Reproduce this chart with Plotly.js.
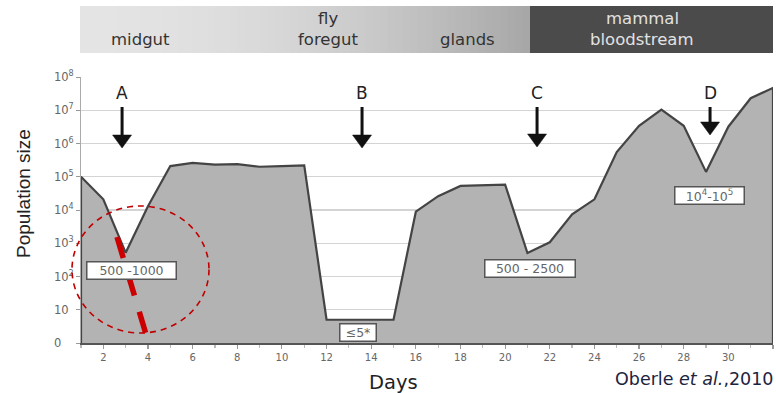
<!DOCTYPE html>
<html>
<head>
<meta charset="utf-8">
<script src="https://cdn.plot.ly/plotly-3.0.1.min.js"></script>
<style>html,body{margin:0;padding:0;background:#fff;}#chart{width:776px;height:393px;}</style>
</head>
<body>
<div id="chart"></div>
<script>
// ---- data ----
var days = [1,2,3,4,5,6,7,8,9,10,11,12,13,14,15,16,17,18,19,20,21,22,23,24,25,26,27,28,29,30,31,32];
var population = [1e5,2.1e4,520,1.3e4,2.1e5,2.6e5,2.3e5,2.4e5,2.0e5,2.1e5,2.2e5,5,5,5,5,8900,2.6e4,5.3e4,5.6e4,5.8e4,510,1070,7400,2.1e4,5.5e5,3.4e6,1.05e7,3.4e6,1.4e5,3.2e6,2.3e7,4.7e7];
var yTickVals = [1,10,100,1e3,1e4,1e5,1e6,1e7,1e8];
// figure spaces keep the labels left-aligned like the reference
var yTickText = ['0\u2007<sup>\u2007</sup>','10<sup>\u2007</sup>','10<sup>2</sup>','10<sup>3</sup>','10<sup>4</sup>','10<sup>5</sup>','10<sup>6</sup>','10<sup>7</sup>','10<sup>8</sup>'];
var xTitle = 'Days';
var yTitle = 'Population size';
var arrowLetters = ['A','B','C','D'];
var arrowDays = [2.84,13.59,21.43,29.18];
var rangeLabels = ['500 -1000','\u22645*','500 - 2500','10<sup>4</sup>-10<sup>5</sup>'];
var rangeLabelDays = [3.28,13.41,21.12,29.14];
var rangeLabelLevels = [150,2.1,175,27000];
var stageTop = ['', 'fly', '', 'mammal'];
var stageBottom = ['midgut', 'foregut', 'glands', 'bloodstream'];

// ---- geometry helpers (pixel -> paper) ----
var L = 81, T = 77, W = 692, H = 266;
function px(x){ return (x - L) / W; }
function py(y){ return (T + H - y) / H; }
function dayToPx(d){ return L + (d - 1) * W / 31; }

var shapes = [];
// header gradient band
var N = 60, x0 = 80, x1 = 530;
for (var i = 0; i < N; i++) {
  var a = x0 + (x1 - x0) * i / N, b = x0 + (x1 - x0) * (i + 1) / N + 0.6;
  var t = (i + 0.5) / N;
  var c = Math.round(228 - 62 * Math.pow(t, 1.9));
  shapes.push({type:'rect', xref:'paper', yref:'paper', x0:px(a), x1:px(b), y0:py(53), y1:py(6),
    fillcolor:'rgb('+c+','+c+','+c+')', line:{width:0}, layer:'above'});
}
shapes.push({type:'rect', xref:'paper', yref:'paper', x0:px(530), x1:px(773), y0:py(53), y1:py(6),
  fillcolor:'#4b4b4b', line:{width:0}, layer:'above'});

// arrows
var arrowShaft = [[107,135],[107,135],[107,134],[107,122]];
for (var k = 0; k < arrowDays.length; k++) {
  var cx = dayToPx(arrowDays[k]);
  var s = arrowShaft[k];
  shapes.push({type:'line', xref:'paper', yref:'paper', x0:px(cx), x1:px(cx), y0:py(s[0]), y1:py(s[1]+2),
    line:{color:'#111', width:3}, layer:'above'});
  var hb = s[1] + 13;
  shapes.push({type:'path', xref:'paper', yref:'paper',
    path:'M'+px(cx-9.5)+','+py(s[1])+' L'+px(cx+9.5)+','+py(s[1])+' L'+px(cx)+','+py(hb)+' Z',
    fillcolor:'#111', line:{color:'#111', width:0.5}, layer:'above'});
}
// red dashed circle
shapes.push({type:'circle', xref:'paper', yref:'paper', x0:px(72), x1:px(209), y0:py(333), y1:py(206),
  line:{color:'#c00000', width:1.6, dash:'6px,5px'}, layer:'above'});
// red thick dashed line
shapes.push({type:'line', xref:'paper', yref:'paper', x0:px(117), y0:py(237), x1:px(148), y1:py(341),
  line:{color:'#cc0000', width:5.5, dash:'22px,17px'}, layer:'above'});

var annotations = [];
// axis titles (placed like the reference, off-centre)
annotations.push({xref:'paper', yref:'paper', x:px(393), y:py(382), text:xTitle, showarrow:false,
  xanchor:'center', yanchor:'middle', font:{family:'DejaVu Sans', size:19.5, color:'#222'}});
annotations.push({xref:'paper', yref:'paper', x:px(23), y:py(194), text:yTitle, showarrow:false, textangle:-90,
  xanchor:'center', yanchor:'middle', font:{family:'Liberation Sans', size:19, color:'#222'}});
// header texts
var stageX = [140, 328, 467, 642];
for (var j = 0; j < stageBottom.length; j++) {
  var dark = j === 3;
  if (stageTop[j]) annotations.push({xref:'paper', yref:'paper', x:px(stageX[j]), y:py(18), text:stageTop[j],
    showarrow:false, xanchor:'center', yanchor:'middle', font:{family:'DejaVu Sans', size:16.5, color: dark ? '#e2e2e2' : '#333'}});
  annotations.push({xref:'paper', yref:'paper', x:px(stageX[j]), y:py(40), text:stageBottom[j],
    showarrow:false, xanchor:'center', yanchor:'middle', font:{family:'DejaVu Sans', size:16.5, color: dark ? '#e2e2e2' : '#333'}});
}
// arrow letters
for (var k2 = 0; k2 < arrowLetters.length; k2++) {
  annotations.push({xref:'x', yref:'paper', x:arrowDays[k2], y:py(93), text:arrowLetters[k2], showarrow:false,
    xanchor:'center', yanchor:'middle', font:{family:'DejaVu Sans', size:17, color:'#222'}});
}
// range labels
var boxW = [86, 33, 87, 66];
for (var m = 0; m < rangeLabels.length; m++) {
  annotations.push({xref:'x', yref:'y', x:rangeLabelDays[m], y:Math.log10(rangeLabelLevels[m]), text:rangeLabels[m],
    showarrow:false, xanchor:'center', yanchor:'middle', width:boxW[m], height:14,
    bgcolor:'#fff', bordercolor:'#555', borderwidth:1.5, borderpad:1,
    font:{family:'DejaVu Sans', size:12.5, color:'#666'}});
}
// citation
annotations.push({xref:'paper', yref:'paper', x:px(776), y:py(379), xanchor:'right', yanchor:'middle', showarrow:false,
  text:'Oberle <i>et al.</i>,2010', font:{family:'DejaVu Sans', size:17.5, color:'#1c2340'}});

// closed area polygon built from the data arrays
var polyX = [days[0]].concat(days, [days[days.length-1]]);
var polyY = [1].concat(population, [1]);

var trace = {
  x: polyX, y: polyY, type:'scatter', mode:'lines', fill:'toself',
  fillcolor:'#b3b3b3', line:{color:'#444', width:2.2}, hoverinfo:'skip'
};

var layout = {
  width:776, height:393,
  margin:{l:L, r:776-L-W, t:T, b:393-T-H},
  paper_bgcolor:'#fff', plot_bgcolor:'#fff',
  showlegend:false,
  font:{family:'DejaVu Sans'},
  xaxis:{
    range:[1,32], tick0:0, dtick:2, ticks:'outside', ticklen:4, tickcolor:'#999', tickwidth:1.2,
    minor:{dtick:1, tick0:1, ticks:'outside', ticklen:3, tickcolor:'#bbb', showgrid:false},
    showgrid:false, zeroline:false, showline:true, linecolor:'#555', linewidth:2,
    tickfont:{family:'DejaVu Sans', size:10, color:'#666'},
    fixedrange:true
  },
  yaxis:{
    type:'log', range:[0,8], tickvals:yTickVals, ticktext:yTickText,
    ticks:'outside', ticklen:4, tickcolor:'#999',
    showgrid:true, gridcolor:'#d4d4d4', gridwidth:1.2, zeroline:false,
    showline:true, linecolor:'#aaa', linewidth:1,
    tickfont:{family:'DejaVu Sans', size:11.5, color:'#666'},
    fixedrange:true
  },
  shapes:shapes,
  annotations:annotations
};

Plotly.newPlot('chart', [trace], layout, {displayModeBar:false, staticPlot:true});
</script>
</body>
</html>
